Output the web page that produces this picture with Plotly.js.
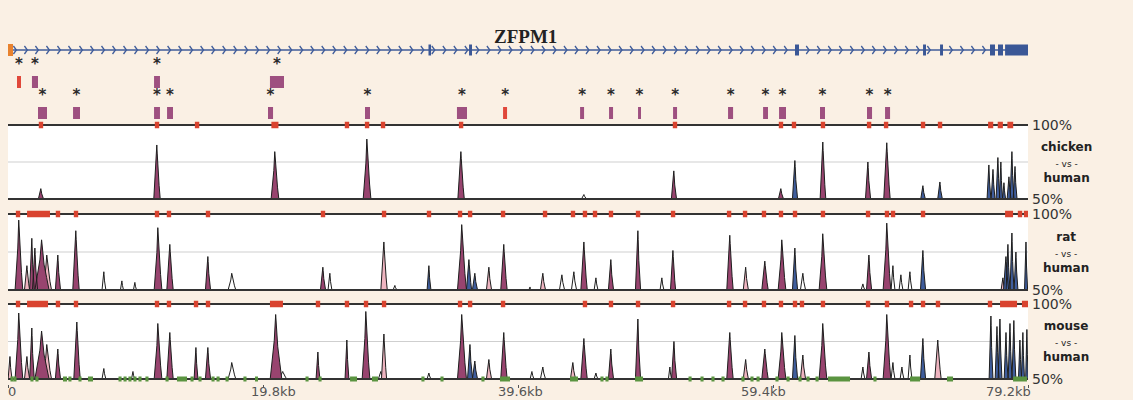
<!DOCTYPE html>
<html>
<head>
<meta charset="utf-8">
<script src="https://cdn.plot.ly/plotly-3.0.1.min.js"></script>
<style>
  html, body { margin: 0; padding: 0; background: #FAF0E4; }
  #chart { width: 1133px; height: 400px; }
</style>
</head>
<body>
<div id="chart"></div>
<script>
// ---------------- DATA (kb positions, % identity) ----------------
const tickVals = [0, 19.8, 39.6, 59.4, 79.2];
const tickText = ['0', '19.8kb', '39.6kb', '59.4kb', '79.2kb'];
const geneName = 'ZFPM1';
const species = ['chicken', 'rat', 'mouse'];

// gene model
const exonStart = [32.65, 35.80, 61.11, 71.05, 72.37, 76.25, 76.87, 77.42];
const exonEnd   = [32.85, 36.03, 61.42, 71.28, 72.60, 76.64, 77.26, 79.20];
const utrStart = [0.0];
const utrEnd   = [0.39];

// conserved-element rows above the plots (start, end, kind: r = red, c = CNS)
const row1 = [[0.70, 1.01, 'r'], [1.86, 2.33, 'c'], [11.34, 11.80, 'c'], [20.34, 21.43, 'c']];
const row2 = [[2.33, 3.03, 'c'], [5.05, 5.59, 'c'], [11.34, 11.80, 'c'], [12.35, 12.81, 'c'],
  [20.19, 20.58, 'c'], [27.72, 28.11, 'c'], [34.86, 35.64, 'c'], [38.44, 38.75, 'r'],
  [44.42, 44.73, 'c'], [46.67, 46.98, 'c'], [48.92, 49.15, 'c'], [51.64, 51.95, 'c'],
  [55.91, 56.30, 'c'], [58.63, 59.01, 'c'], [59.87, 60.41, 'c'], [63.05, 63.44, 'c'],
  [66.70, 67.09, 'c'], [68.10, 68.49, 'c']];

// peaks: [position kb, % identity, half-width kb, kind: c = CNS, e = exon, u = UTR/other, n = not conserved]
const chickenPeaks = [
  [2.56, 57, 0.2, 'c'], [11.57, 86.5, 0.25, 'c'], [20.73, 82, 0.3, 'c'], [27.88, 90.5, 0.3, 'c'],
  [35.18, 82, 0.25, 'c'], [44.73, 53, 0.2, 'n'], [51.71, 69, 0.2, 'c'], [60.02, 57, 0.2, 'c'],
  [61.11, 76, 0.2, 'e'], [63.28, 88.5, 0.22, 'c'], [66.78, 75, 0.2, 'c'], [68.25, 88, 0.25, 'c'],
  [71.05, 59, 0.18, 'e'], [72.37, 61.5, 0.18, 'e'], [76.17, 73, 0.15, 'e'], [76.49, 70, 0.15, 'e'],
  [76.87, 78, 0.15, 'e'], [77.10, 75, 0.12, 'e'], [77.34, 61, 0.12, 'e'], [77.73, 65, 0.15, 'e'],
  [77.96, 82, 0.15, 'e'], [78.20, 72, 0.15, 'e']
];
const ratPeaks = [
  [0.85, 96, 0.3, 'c'], [1.48, 66, 0.2, 'u'], [1.86, 84, 0.18, 'c'], [2.10, 77.6, 0.2, 'c'],
  [2.64, 83, 0.55, 'c'], [3.03, 73, 0.35, 'u'], [3.88, 73, 0.2, 'c'], [5.28, 89, 0.25, 'c'],
  [7.45, 62, 0.15, 'n'], [8.85, 56, 0.12, 'n'], [9.86, 55, 0.12, 'n'], [11.65, 91, 0.3, 'c'],
  [12.58, 80, 0.25, 'c'], [15.53, 72, 0.2, 'c'], [17.39, 61, 0.3, 'n'], [24.46, 65, 0.2, 'c'],
  [25.00, 61, 0.15, 'n'], [29.20, 81.6, 0.25, 'u'], [30.05, 53, 0.15, 'n'], [32.69, 66, 0.15, 'e'],
  [35.25, 93, 0.35, 'c'], [35.80, 70, 0.2, 'e'], [36.26, 61, 0.2, 'e'], [37.35, 65, 0.2, 'u'],
  [38.51, 80, 0.25, 'c'], [40.54, 52, 0.1, 'n'], [41.54, 61, 0.2, 'u'], [43.02, 60, 0.2, 'n'],
  [43.95, 62, 0.2, 'n'], [44.73, 81.6, 0.25, 'c'], [45.66, 58, 0.15, 'n'], [46.82, 70, 0.2, 'c'],
  [48.92, 89, 0.2, 'c'], [50.78, 58, 0.15, 'n'], [51.64, 76, 0.2, 'c'], [56.06, 86, 0.25, 'c'],
  [57.29, 65, 0.2, 'u'], [58.78, 69, 0.25, 'c'], [60.10, 83, 0.3, 'c'], [61.11, 77.6, 0.2, 'e'],
  [61.73, 61, 0.2, 'n'], [63.28, 87, 0.3, 'c'], [66.39, 54, 0.15, 'n'], [66.86, 73, 0.2, 'c'],
  [68.25, 94, 0.3, 'c'], [68.72, 66, 0.15, 'n'], [69.34, 60, 0.15, 'n'], [70.04, 62, 0.15, 'n'],
  [71.05, 76, 0.2, 'e'], [77.26, 58, 0.15, 'u'], [77.50, 72, 0.2, 'e'], [77.65, 80, 0.15, 'e'],
  [77.96, 87.5, 0.15, 'e'], [78.27, 75, 0.15, 'e'], [79.05, 81.6, 0.12, 'e']
];
const mousePeaks = [
  [0.16, 65, 0.15, 'u'], [0.85, 94, 0.3, 'c'], [1.48, 65, 0.2, 'u'], [1.86, 84, 0.18, 'c'],
  [2.64, 82, 0.55, 'c'], [3.03, 73, 0.35, 'u'], [3.88, 70, 0.2, 'c'], [5.36, 88, 0.25, 'c'],
  [7.45, 57, 0.15, 'n'], [9.71, 55, 0.12, 'n'], [11.65, 87, 0.3, 'c'], [12.58, 81, 0.25, 'c'],
  [14.60, 71, 0.15, 'c'], [15.53, 71, 0.2, 'c'], [17.39, 61, 0.3, 'n'], [20.81, 93, 0.45, 'c'],
  [21.35, 55, 0.3, 'n'], [24.07, 68, 0.15, 'c'], [26.32, 76, 0.15, 'c'], [27.80, 95, 0.3, 'c'],
  [28.96, 55, 0.2, 'n'], [29.20, 80, 0.2, 'u'], [32.69, 54, 0.15, 'n'], [35.25, 93, 0.35, 'c'],
  [35.88, 73, 0.2, 'e'], [36.26, 62, 0.2, 'e'], [37.35, 63, 0.2, 'u'], [38.51, 81, 0.25, 'c'],
  [40.69, 55, 0.15, 'n'], [41.54, 58, 0.2, 'n'], [43.87, 61, 0.2, 'u'], [44.73, 77, 0.25, 'c'],
  [45.66, 54, 0.15, 'n'], [46.82, 70, 0.2, 'c'], [48.92, 90, 0.2, 'c'], [51.40, 58, 0.12, 'n'],
  [51.72, 75, 0.2, 'c'], [56.06, 81, 0.25, 'c'], [57.29, 63, 0.2, 'u'], [58.78, 70, 0.25, 'c'],
  [60.10, 81, 0.3, 'c'], [61.11, 79, 0.2, 'e'], [61.73, 66, 0.2, 'u'], [63.28, 87, 0.3, 'c'],
  [66.39, 58, 0.15, 'n'], [66.86, 68, 0.2, 'c'], [68.25, 93, 0.3, 'c'], [68.72, 61, 0.15, 'n'],
  [69.42, 58, 0.15, 'n'], [70.04, 66, 0.15, 'n'], [71.05, 77, 0.2, 'e'], [72.21, 76, 0.25, 'u'],
  [76.33, 92, 0.15, 'e'], [76.80, 85, 0.15, 'e'], [77.03, 90, 0.15, 'e'], [77.50, 81, 0.15, 'e'],
  [77.81, 87, 0.15, 'e'], [78.11, 89, 0.15, 'e'], [78.58, 76, 0.12, 'e'], [78.81, 81, 0.12, 'e'],
  [79.12, 83, 0.1, 'e']
];

// conserved-region marks on the 100% line (single number = small mark centre, pair = span)
const chickenMarks = [2.56, 11.57, 14.68, [20.45, 21.0], 26.32, 27.88, 29.12, 35.18, 51.79, 60.02,
  61.03, 63.28, 66.86, 68.18, 71.05, 72.37, [76.1, 76.5], [76.85, 77.25], [77.6, 78.05]];
const ratMarks = [0.78, [1.48, 3.26], 3.88, 5.28, 11.57, 12.50, 15.53, 24.46, 29.20, 32.69, 35.10,
  35.88, 38.44, 41.70, 43.87, 44.80, 45.58, 46.82, 48.92, 51.64, 55.99, 57.23, 58.70, 60.02, 61.11,
  63.28, 66.78, 68.25, 68.72, 71.05, [77.42, 78.04], 78.58, 79.05];
const mouseMarks = [0.78, [1.48, 3.11], 3.88, 5.28, 11.57, 12.50, 14.60, 15.53, [20.34, 21.35], 24.07,
  26.32, 27.80, 29.20, 35.10, 35.88, 38.44, 44.80, 46.82, 48.92, 51.64, 55.99, 57.23, 58.70, 60.02,
  61.11, 61.65, 63.28, 66.78, 68.25, 70.12, 71.05, 72.21, 76.25, [77.03, 78.35], [78.73, 79.2]];
// repeats on the mouse 50% line
const mouseRepeats = [0.31, 0.54, 1.86, 2.25, [4.27, 4.58], 4.81, 5.59, [6.21, 6.60], 8.70, 9.09, 9.47,
  9.86, 10.25, 10.79, 12.35, [13.12, 13.90], 14.29, 14.91, 15.92, 16.31, 17.01, 18.40, [19.18, 19.41],
  23.22, 24.23, [26.56, 27.10], [28.26, 28.73], 32.22, 33.70, 36.88, [38.20, 38.98], [43.64, 44.26],
  46.12, 46.51, [48.69, 49.31], 52.96, 53.89, 54.74, 55.52, 57.07, 57.77, 58.24, 59.71, 60.57, 61.50,
  62.12, 62.82, [63.67, 65.38], 67.32, [70.04, 70.82], [72.91, 73.38], [78.04, 79.12]];

// ---------------- STYLE ----------------
const X_MAX = 79.2;
const BG = '#FAF0E4';
const COL = { c: '#98446F', e: '#3F5D9C', u: '#EEB4C0', n: 'rgba(0,0,0,0)', r: '#E0483A' };
const RECT_CNS = '#9E5080';
const MARK_RED = '#D9432F';
const MARK_GREEN = '#5A9440';
const GENE_BLUE = '#3F5C9A';
const FONT = 'DejaVu Sans, Verdana, sans-serif';
const TICK_LABEL_SHIFT = [4, 10, 2, -10, -20];   // px nudges of the axis labels, as in the original

const panelAxes = ['y', 'y2', 'y3'];
const panelPeaks = [chickenPeaks, ratPeaks, mousePeaks];
const panelMarks = [chickenMarks, ratMarks, mouseMarks];

const traces = [];
const shapes = [];
const annotations = [];

function span(m, half) { return Array.isArray(m) ? m : [m - half, m + half]; }

// peak outline from a data tuple
function peakPath(p) {
  const c = p[0], h = p[1], w = p[2], d = h - 50;
  return {
    x: [c - w, c - 0.6 * w, c - 0.3 * w, c - 0.06 * w, c + 0.06 * w, c + 0.3 * w, c + 0.65 * w, c + w],
    y: [50, 50 + 0.35 * d, 50 + 0.6 * d, h, 50 + 0.85 * d, 50 + 0.5 * d, 50 + 0.25 * d, 50]
  };
}

panelAxes.forEach(function (ya, i) {
  shapes.push({ type: 'rect', xref: 'x', yref: ya, x0: 0, x1: X_MAX, y0: 50, y1: 100,
    fillcolor: '#FFFFFF', line: { width: 0 }, layer: 'below' });
  shapes.push({ type: 'line', xref: 'x', yref: ya, x0: 0, x1: X_MAX, y0: 75, y1: 75,
    line: { color: '#CFCFCF', width: 1 }, layer: 'below' });

  ['n', 'u', 'c', 'e'].forEach(function (kind) {
    const xs = [], ys = [];
    panelPeaks[i].forEach(function (p) {
      if (p[3] !== kind) return;
      const pp = peakPath(p);
      xs.push.apply(xs, pp.x); ys.push.apply(ys, pp.y);
      xs.push(null); ys.push(null);
    });
    if (!xs.length) return;
    traces.push({ type: 'scatter', mode: 'lines', x: xs, y: ys, xaxis: 'x', yaxis: ya,
      fill: 'toself', fillcolor: COL[kind], line: { color: '#1E1E1E', width: 1 },
      hoverinfo: 'skip', showlegend: false });
  });

  [100, 50].forEach(function (v) {
    shapes.push({ type: 'line', xref: 'x', yref: ya, x0: 0, x1: X_MAX, y0: v, y1: v,
      line: { color: '#333333', width: 2 }, layer: 'above' });
  });
  panelMarks[i].forEach(function (m) {
    const s = span(m, 0.17);
    shapes.push({ type: 'rect', xref: 'x', yref: ya, x0: s[0], x1: s[1], y0: 97.8, y1: 102.2,
      fillcolor: MARK_RED, line: { width: 0 }, layer: 'above' });
  });

  annotations.push({ xref: 'paper', yref: ya, x: 1.0015, y: 100, xanchor: 'left', yanchor: 'middle',
    text: '100%', showarrow: false, font: { family: FONT, size: 14, color: '#333' } });
  annotations.push({ xref: 'paper', yref: ya, x: 1.0015, y: 50, xanchor: 'left', yanchor: 'middle',
    text: '50%', showarrow: false, font: { family: FONT, size: 14, color: '#333' } });
  annotations.push({ xref: 'paper', yref: ya, x: 1.0373, y: 75, xanchor: 'center', yanchor: 'middle',
    text: '<b>' + species[i] + '</b><br><span style="font-size:9px">- vs -</span><br><b>human</b>',
    showarrow: false, font: { family: FONT, size: 12, color: '#222' } });
});

mouseRepeats.forEach(function (m) {
  const s = span(m, 0.12);
  shapes.push({ type: 'rect', xref: 'x', yref: 'y3', x0: s[0], x1: s[1], y0: 48.3, y1: 51.7,
    fillcolor: MARK_GREEN, line: { width: 0 }, layer: 'above' });
});

// axis labels (drawn as annotations so they sit as close to the axis as in the original)
tickVals.forEach(function (v, k) {
  annotations.push({ xref: 'x', yref: 'paper', x: v, y: 0.02125, xanchor: 'center', yanchor: 'middle',
    xshift: TICK_LABEL_SHIFT[k], text: tickText[k], showarrow: false, borderpad: 0,
    font: { family: FONT, size: 13, color: '#555' } });
});

// ---------------- gene track (y4 in pixel-like units) ----------------
const GENE_Y = 50;
shapes.push({ type: 'line', xref: 'x', yref: 'y4', x0: 0, x1: X_MAX, y0: GENE_Y, y1: GENE_Y,
  line: { color: GENE_BLUE, width: 1.5 }, layer: 'below' });
(function () {
  const xs = [], ys = [];
  for (let c = 0.62; c < 76.2; c += 0.855) {
    let inExon = false;
    for (let k = 0; k < exonStart.length; k++) {
      if (c > exonStart[k] - 0.1 && c < exonEnd[k] + 0.2) inExon = true;
    }
    if (inExon) continue;
    xs.push(c - 0.2, c + 0.03, c - 0.2, null);
    ys.push(GENE_Y - 4, GENE_Y, GENE_Y + 4, null);
  }
  traces.push({ type: 'scatter', mode: 'lines', x: xs, y: ys, xaxis: 'x', yaxis: 'y4',
    line: { color: GENE_BLUE, width: 1.3 }, hoverinfo: 'skip', showlegend: false });
})();
exonStart.forEach(function (s, k) {
  shapes.push({ type: 'rect', xref: 'x', yref: 'y4', x0: s, x1: exonEnd[k], y0: GENE_Y - 5.5, y1: GENE_Y + 5.5,
    fillcolor: '#3A5796', line: { width: 0 }, layer: 'above' });
});
utrStart.forEach(function (s, k) {
  shapes.push({ type: 'rect', xref: 'x', yref: 'y4', x0: s, x1: utrEnd[k], y0: GENE_Y - 6, y1: GENE_Y + 6,
    fillcolor: '#E8822E', line: { width: 0 }, layer: 'above' });
});

const starX = [], starY = [];
[[row1, 76, 88, 62], [row2, 107, 119, 93]].forEach(function (r) {
  r[0].forEach(function (e) {
    shapes.push({ type: 'rect', xref: 'x', yref: 'y4', x0: e[0], x1: e[1], y0: r[1], y1: r[2],
      fillcolor: e[2] === 'r' ? COL.r : RECT_CNS, line: { width: 0 }, layer: 'above' });
    starX.push((e[0] + e[1]) / 2); starY.push(r[3] + 3);
  });
});
traces.push({ type: 'scatter', mode: 'text', x: starX, y: starY, xaxis: 'x', yaxis: 'y4',
  text: starX.map(function () { return '<b>*</b>'; }), textposition: 'middle center',
  textfont: { family: FONT, size: 15, color: '#2A2A2A' }, hoverinfo: 'skip', showlegend: false, cliponaxis: false });

annotations.push({ xref: 'x', yref: 'y4', x: 40.15, y: 36, xanchor: 'center', yanchor: 'middle',
  text: '<b>' + geneName + '</b>', showarrow: false,
  font: { family: 'Liberation Serif, Times New Roman, serif', size: 19, color: '#222' } });

const axisOff = { showgrid: false, zeroline: false, showticklabels: false, ticks: '', showline: false, fixedrange: true };
const layout = {
  width: 1133, height: 400,
  margin: { l: 8, r: 105, t: 0, b: 0 },
  paper_bgcolor: BG, plot_bgcolor: 'rgba(0,0,0,0)',
  showlegend: false,
  xaxis: { range: [0, X_MAX], anchor: 'y3', domain: [0, 1], tickvals: tickVals, showticklabels: false,
    ticks: 'outside', ticklen: 3, tickwidth: 1, tickcolor: '#555', showgrid: false, zeroline: false,
    showline: false, fixedrange: true },
  yaxis:  Object.assign({ domain: [0.4914, 0.6986], range: [47, 103], anchor: 'x' }, axisOff),
  yaxis2: Object.assign({ domain: [0.2636, 0.4764], range: [47, 103], anchor: 'x' }, axisOff),
  yaxis3: Object.assign({ domain: [0.04125, 0.25125], range: [47, 103], anchor: 'x' }, axisOff),
  yaxis4: Object.assign({ domain: [0.70, 0.95], range: [120, 20], anchor: 'x' }, axisOff),
  shapes: shapes,
  annotations: annotations
};

Plotly.newPlot('chart', traces, layout, { staticPlot: true, displayModeBar: false });
</script>
</body>
</html>
